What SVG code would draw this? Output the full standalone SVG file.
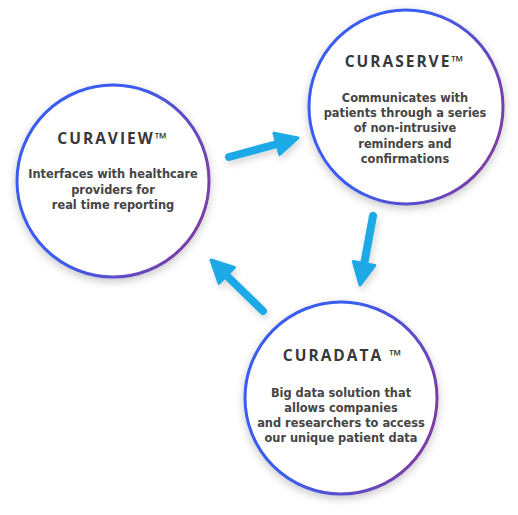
<svg xmlns="http://www.w3.org/2000/svg" width="518" height="515" viewBox="0 0 518 515">
<defs>
<linearGradient id="ring" x1="0" y1="0.2" x2="1" y2="0.6">
<stop offset="0.45" stop-color="#3b5cf0"/>
<stop offset="1" stop-color="#7b3ea5"/>
</linearGradient>
<filter id="shadow" x="-20%" y="-20%" width="140%" height="140%">
<feDropShadow dx="0" dy="3" stdDeviation="4" flood-color="#000" flood-opacity="0.22"/>
</filter>
<filter id="ashadow" x="-30%" y="-30%" width="160%" height="160%">
<feDropShadow dx="2" dy="4" stdDeviation="3" flood-color="#000" flood-opacity="0.15"/>
</filter>
<style>
.ring{fill:#fff;stroke:url(#ring);stroke-width:3;filter:url(#shadow)}
.title{font-family:"Open Sans","Liberation Sans",sans-serif;font-weight:700;font-size:15.5px;letter-spacing:2px;fill:#383838;text-anchor:middle}
.body{font-family:"DejaVu Sans","Liberation Sans",sans-serif;font-weight:700;font-size:11.4px;fill:#454545;text-anchor:middle}
.shaft{stroke:#1ca9e6;stroke-width:8;stroke-linecap:round;fill:none}
.head{fill:#1ca9e6;stroke:#1ca9e6;stroke-width:3;stroke-linejoin:round}
</style>
</defs>
<g id="curaview">
<circle class="ring" cx="113" cy="181" r="96"/>
<text class="title" x="113" y="144">CURAVIEW™</text>
<text class="body" x="113" y="178">Interfaces with healthcare</text>
<text class="body" x="113" y="194">providers for</text>
<text class="body" x="113" y="209">real time reporting</text>
</g>
<g id="curaserve">
<circle class="ring" cx="406" cy="107" r="97"/>
<text class="title" x="405" y="67">CURASERVE™</text>
<text class="body" x="405" y="102">Communicates with</text>
<text class="body" x="405" y="117">patients through a series</text>
<text class="body" x="405" y="132">of non-intrusive</text>
<text class="body" x="405" y="148">reminders and</text>
<text class="body" x="405" y="163">confirmations</text>
</g>
<g id="curadata">
<circle class="ring" cx="341" cy="398" r="96"/>
<text class="title" x="343" y="361">CURADATA ™</text>
<text class="body" x="341" y="397">Big data solution that</text>
<text class="body" x="341" y="412">allows companies</text>
<text class="body" x="341" y="427">and researchers to access</text>
<text class="body" x="341" y="442">our unique patient data</text>
</g>
<g id="connectors" filter="url(#ashadow)">
<line class="shaft" x1="229" y1="157" x2="279" y2="143.5"/>
<polygon class="head" points="298,138 279.7,154.4 273.9,133.2"/>
<line class="shaft" x1="373" y1="216" x2="364.5" y2="262"/>
<polygon class="head" points="360,285 374.9,265.4 353.3,261.4"/>
<line class="shaft" x1="263" y1="311" x2="225" y2="274"/>
<polygon class="head" points="211,260 234.4,267.5 219,283.3"/>
</g>
</svg>
